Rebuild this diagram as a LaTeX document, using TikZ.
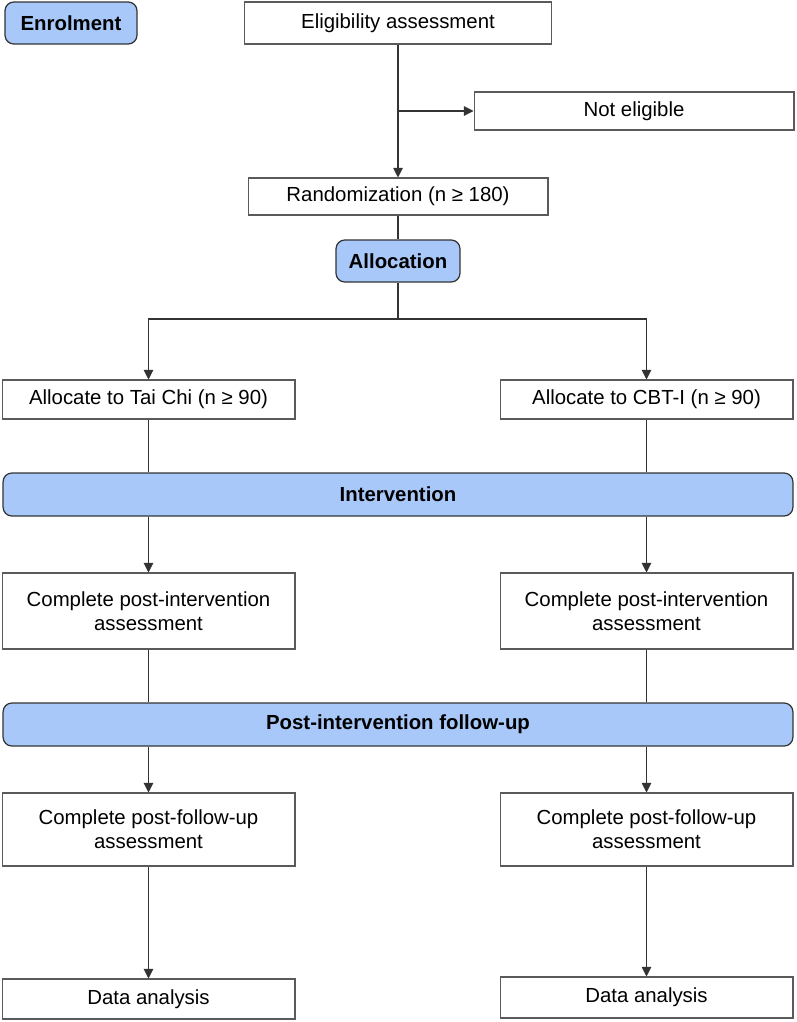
\documentclass[tikz,border=0pt]{standalone}
\usepackage{fontspec}
\setmainfont{Liberation Sans}
\usetikzlibrary{arrows.meta}
\definecolor{phase}{HTML}{A9C8FA}
\definecolor{edge}{HTML}{5A5A5A}
\newcommand{\flowfont}{\fontsize{11.6}{13.5}\selectfont}
\tikzset{
    stage/.style={draw=edge, line width=0.6pt, align=center, inner sep=2pt},
    phasebox/.style={draw=black!80, fill=phase, line width=0.7pt, rounded corners=5pt, font=\flowfont\bfseries, inner sep=2pt},
    link/.style={draw=black!80, line width=0.6pt},
    go/.style={link, -{Triangle[width=5.5pt,length=5.5pt]}}
}
\begin{document}
\begin{tikzpicture}[x=0.02cm, y=-0.02cm, font=\flowfont]
    \useasboundingbox (0,0) rectangle (796,1022);
    % enrolment
    \node[phasebox, minimum width=2.64cm, minimum height=0.84cm] (enrol) at (71,23) {Enrolment};
    \node[stage, minimum width=6.14cm, minimum height=0.84cm] (elig) at (398,23) {Eligibility assessment};
    \node[stage, minimum width=6.4cm, minimum height=0.76cm] (noelig) at (634,111) {Not eligible};
    \node[stage, minimum width=6cm, minimum height=0.74cm] (rand) at (398,196.5) {Randomization (n ≥ 180)};
    \coordinate (split) at (398,111);
    \draw[go] (elig) -- (rand);
    \draw[go] (split) -- (noelig.west);
    % allocation
    \node[phasebox, minimum width=2.48cm, minimum height=0.84cm] (alloc) at (398,261) {Allocation};
    \draw[link] (rand) -- (alloc);
    \coordinate (fork) at (398,319);
    \node[stage, minimum width=5.86cm, minimum height=0.78cm] (taichi) at (148.5,399.5) {Allocate to Tai Chi (n ≥ 90)};
    \node[stage, minimum width=5.86cm, minimum height=0.78cm] (cbt) at (646.5,399.5) {Allocate to CBT-I (n ≥ 90)};
    \draw[link] (alloc) -- (fork);
    \draw[go] (fork) -| (taichi.north);
    \draw[go] (fork) -| (cbt.north);
    % intervention
    \node[phasebox, minimum width=15.8cm, minimum height=0.86cm] (interv) at (398,494.5) {Intervention};
    \node[stage, minimum width=5.86cm, minimum height=1.52cm] (postl) at (148.5,611) {Complete post-intervention\\assessment};
    \node[stage, minimum width=5.86cm, minimum height=1.52cm] (postr) at (646.5,611) {Complete post-intervention\\assessment};
    \draw[link] (taichi) -- (taichi |- interv.north);
    \draw[link] (cbt) -- (cbt |- interv.north);
    \draw[go] (postl |- interv.south) -- (postl);
    \draw[go] (postr |- interv.south) -- (postr);
    % follow-up
    \node[phasebox, minimum width=15.8cm, minimum height=0.86cm] (follow) at (398,724.5) {Post-intervention follow-up};
    \node[stage, minimum width=5.86cm, minimum height=1.46cm] (fupl) at (148.5,829.5) {Complete post-follow-up\\assessment};
    \node[stage, minimum width=5.86cm, minimum height=1.46cm] (fupr) at (646.5,829.5) {Complete post-follow-up\\assessment};
    \draw[link] (postl) -- (postl |- follow.north);
    \draw[link] (postr) -- (postr |- follow.north);
    \draw[go] (fupl |- follow.south) -- (fupl);
    \draw[go] (fupr |- follow.south) -- (fupr);
    % analysis
    \node[stage, minimum width=5.86cm, minimum height=0.8cm] (datal) at (148.5,999) {Data analysis};
    \node[stage, minimum width=5.86cm, minimum height=0.82cm] (datar) at (646.5,997.5) {Data analysis};
    \draw[go] (fupl) -- (datal);
    \draw[go] (fupr) -- (datar);
\end{tikzpicture}
\end{document}
